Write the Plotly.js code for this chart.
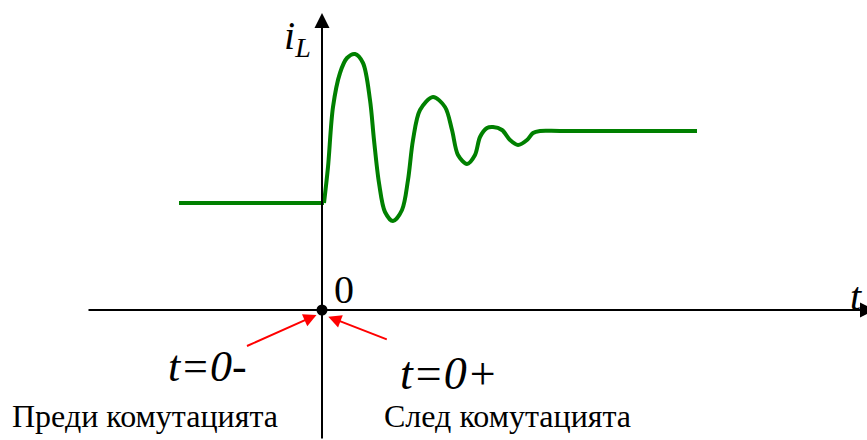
<!DOCTYPE html>
<html>
<head>
<meta charset="utf-8">
<script src="https://cdn.plot.ly/plotly-3.0.1.min.js"></script>
<style>
  html, body { margin: 0; padding: 0; background: #ffffff; }
  #chart { width: 867px; height: 440px; }
</style>
</head>
<body>
<div id="chart"></div>
<script>
// Inductor current i_L(t) before and after switching (schematic units)
const tBefore = [-14.3, 0.2];
const iBefore = [10.7, 10.7];

const tAfter = [0.2, 0.6, 1.1, 1.8, 2.5, 3.3, 4.1, 4.8, 5.2, 5.7, 6.3, 7.1, 8.0, 8.6, 9.1, 9.8, 11.1, 12.3, 13.0, 13.6, 14.5, 15.3, 15.8, 16.5, 17.1, 18.0, 18.8, 19.6, 20.5, 21.1, 21.8, 23.8, 37.5];
const iAfter = [10.7, 14.3, 20.3, 23.7, 25.2, 25.6, 24.7, 21.0, 17.0, 12.7, 9.8, 8.9, 10.0, 13.0, 17.0, 20.0, 21.3, 20.3, 18.0, 15.5, 14.6, 15.5, 17.3, 18.2, 18.3, 18.0, 17.0, 16.5, 17.0, 17.7, 17.9, 17.9, 17.9];

const switchT = [0];
const switchI = [0];

const labels = {
  yName: '<i>i</i><sub><i>L</i></sub>',
  xName: '<i>t</i>',
  origin: '0',
  before: '<i>t=0</i>-',
  after: '<i>t=0+</i>',
  beforeText: 'Преди комутацията',
  afterText: 'След комутацията'
};

const serif = 'Liberation Serif';
const green = '#008000';

const traces = [
  { x: tBefore, y: iBefore, mode: 'lines', line: { color: green, width: 4 }, hoverinfo: 'skip' },
  { x: tAfter, y: iAfter, mode: 'lines', line: { color: green, width: 4, shape: 'spline', smoothing: 0.9 }, hoverinfo: 'skip' },
  { x: switchT, y: switchI, mode: 'markers', marker: { color: '#000000', size: 11 }, hoverinfo: 'skip' }
];

const layout = {
  width: 867,
  height: 440,
  margin: { l: 0, r: 0, t: 0, b: 0 },
  paper_bgcolor: '#ffffff',
  plot_bgcolor: '#ffffff',
  showlegend: false,
  font: { family: serif },
  xaxis: { range: [-32.2, 54.5], visible: false, fixedrange: true },
  yaxis: { range: [-13, 31], visible: false, fixedrange: true },
  annotations: [
    // vertical axis
    { x: 0, y: 29.7, ax: 0, ay: -13, xref: 'x', yref: 'y', axref: 'x', ayref: 'y',
      showarrow: true, arrowhead: 2, arrowwidth: 2, arrowsize: 1.5, arrowcolor: '#000000', text: '' },
    // horizontal axis
    { x: 55.3, y: 0, ax: -23.5, ay: 0, xref: 'x', yref: 'y', axref: 'x', ayref: 'y',
      showarrow: true, arrowhead: 2, arrowwidth: 2, arrowsize: 1.5, arrowcolor: '#000000', text: '' },
    // red pointers
    { x: -0.55, y: -0.5, ax: -7.65, ay: -3.67, xref: 'x', yref: 'y', axref: 'x', ayref: 'y',
      showarrow: true, arrowhead: 2, arrowwidth: 2, arrowsize: 1.3, arrowcolor: '#ff0000', text: '' },
    { x: 0.63, y: -0.67, ax: 6.63, ay: -3.0, xref: 'x', yref: 'y', axref: 'x', ayref: 'y',
      showarrow: true, arrowhead: 2, arrowwidth: 2, arrowsize: 1.3, arrowcolor: '#ff0000', text: '' },
    // texts
    { x: -2.5, y: 27.2, xref: 'x', yref: 'y', showarrow: false, text: labels.yName,
      font: { family: serif, size: 40, color: '#000000' } },
    { x: 53.4, y: 1.4, xref: 'x', yref: 'y', showarrow: false, text: labels.xName,
      font: { family: serif, size: 40, color: '#000000' } },
    { x: 2.15, y: 2.1, xref: 'x', yref: 'y', showarrow: false, text: labels.origin,
      font: { family: serif, size: 40, color: '#000000' } },
    { x: -11.5, y: -5.6, xref: 'x', yref: 'y', showarrow: false, text: labels.before,
      font: { family: serif, size: 44, color: '#000000' } },
    { x: 12.7, y: -6.3, xref: 'x', yref: 'y', showarrow: false, text: labels.after,
      font: { family: serif, size: 46, color: '#000000' } },
    { x: -17.75, y: -10.6, xref: 'x', yref: 'y', showarrow: false, text: labels.beforeText,
      font: { family: serif, size: 32, color: '#000000' } },
    { x: 18.55, y: -10.6, xref: 'x', yref: 'y', showarrow: false, text: labels.afterText,
      font: { family: serif, size: 32, color: '#000000' } }
  ]
};

Plotly.newPlot('chart', traces, layout, { staticPlot: true, displayModeBar: false });
</script>
</body>
</html>
